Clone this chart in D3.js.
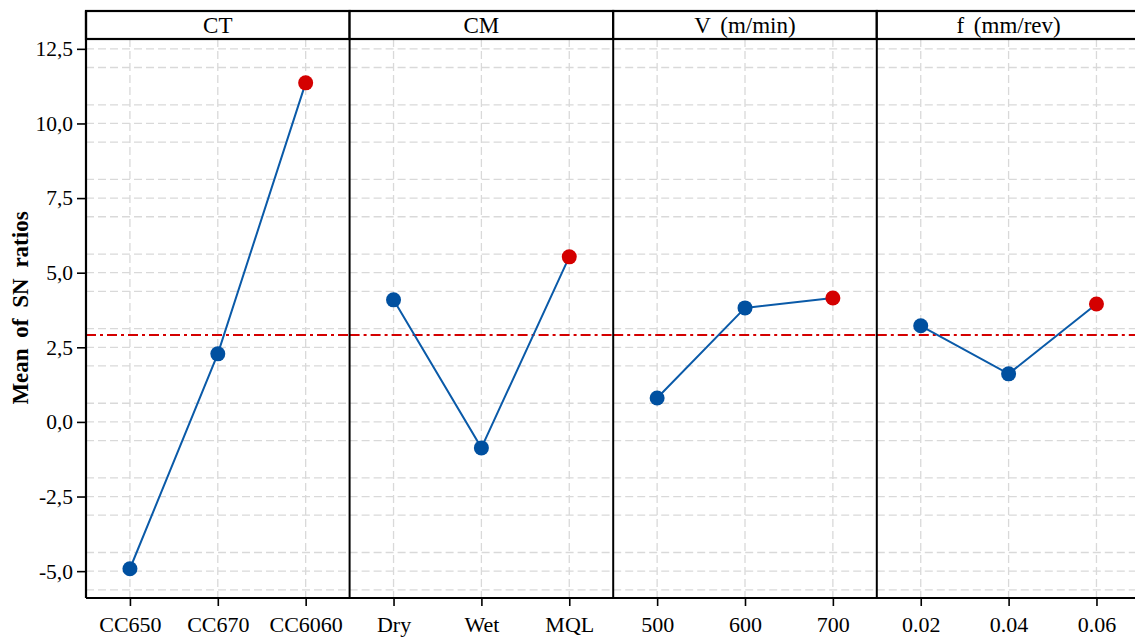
<!DOCTYPE html>
<html>
<head>
<meta charset="utf-8">
<script src="https://cdn.jsdelivr.net/npm/d3@7"></script>
<style>
  body { margin: 0; background: #fff; }
  text { font-family: "Times New Roman", "Liberation Serif", "DejaVu Serif", serif; fill: #000; }
</style>
</head>
<body>
<svg id="chart" width="1135" height="637"></svg>
<script>
// factors and their levels
const factors = ["CT", "CM", "V (m/min)", "f (mm/rev)"];
const levels = [
  ["CC650", "CC670", "CC6060"],
  ["Dry", "Wet", "MQL"],
  ["500", "600", "700"],
  ["0.02", "0.04", "0.06"]
];
// mean SN ratio per level
const snMeans = [
  [-4.92, 2.28, 11.36],
  [4.09, -0.87, 5.53],
  [0.80, 3.82, 4.15],
  [3.22, 1.61, 3.95]
];
const overallMean = 2.91;
const yTicks = [-5, -2.5, 0, 2.5, 5, 7.5, 10, 12.5];

const serif = '"Times New Roman", "Liberation Serif", serif';
const svg = d3.select("#chart");
const plotL = 86, plotT = 39, plotB = 598, stripH = 28;
const panelW = 263.6;

const y = d3.scaleLinear().domain([-5.9, 12.83]).range([plotB, plotT]);
const fmt = d => d.toFixed(1).replace(".", ",");
const minorTicks = d3.range(-5.625, 12.9, 1.25).filter(v => !yTicks.includes(v));

svg.append("defs").append("clipPath").attr("id", "plotclip")
  .append("rect").attr("x", plotL).attr("y", plotT).attr("width", 1135 - plotL).attr("height", plotB - plotT);

factors.forEach((name, i) => {
  const x0 = plotL + i * panelW;
  const x = d3.scalePoint().domain(levels[i]).range([x0, x0 + panelW]).padding(0.5);
  const g = svg.append("g").attr("clip-path", "url(#plotclip)");

  // grid
  g.selectAll(".gy").data(yTicks.concat(minorTicks)).enter().append("line")
    .attr("x1", x0).attr("x2", x0 + panelW)
    .attr("y1", d => y(d)).attr("y2", d => y(d))
    .style("stroke", "#d9d9d9").style("stroke-width", 1.3).style("stroke-dasharray", "8,4");
  g.selectAll(".gx").data(levels[i]).enter().append("line")
    .attr("x1", d => x(d)).attr("x2", d => x(d))
    .attr("y1", plotT).attr("y2", plotB)
    .style("stroke", "#d9d9d9").style("stroke-width", 1.3).style("stroke-dasharray", "8,4");

  // overall mean
  g.append("line")
    .attr("x1", x0).attr("x2", x0 + panelW)
    .attr("y1", y(overallMean)).attr("y2", y(overallMean))
    .style("stroke", "#d40000").style("stroke-width", 2).style("stroke-dasharray", "10,4,3,4");

  const pts = levels[i].map((l, j) => ({ l: l, v: snMeans[i][j] }));
  const maxV = d3.max(snMeans[i]);
  g.append("path").datum(pts)
    .attr("d", d3.line().x(d => x(d.l)).y(d => y(d.v)))
    .style("fill", "none").style("stroke", "#0a5aa8").style("stroke-width", 2);
  g.selectAll(".pt").data(pts).enter().append("circle")
    .attr("cx", d => x(d.l)).attr("cy", d => y(d.v)).attr("r", 7.5)
    .style("fill", d => d.v === maxV ? "#d40000" : "#0050a0");

  // x axis
  const ax = svg.append("g").attr("transform", `translate(0,${plotB})`)
    .call(d3.axisBottom(x).tickSize(8).tickSizeOuter(0).tickPadding(10));
  ax.attr("font-family", serif);
  ax.select(".domain").remove();
  ax.selectAll("line").style("stroke", "#000").style("stroke-width", 1.6);
  ax.selectAll("text").style("font-size", "22px").style("font-family", serif);

  // panel separator
  if (i > 0) {
    svg.append("line").attr("x1", x0).attr("x2", x0).attr("y1", plotT).attr("y2", plotB)
      .style("stroke", "#000").style("stroke-width", 2);
  }

  // strip
  svg.append("rect").attr("x", x0).attr("y", plotT - stripH).attr("width", panelW).attr("height", stripH)
    .style("fill", "#fff").style("stroke", "#000").style("stroke-width", 2.2);
  svg.append("text").attr("x", x0 + panelW / 2).attr("y", plotT - 6)
    .attr("text-anchor", "middle").style("font-size", "23px").style("word-spacing", "4px")
    .style("font-family", serif).text(name);
});

// y axis
const ay = svg.append("g").attr("transform", `translate(${plotL},0)`)
  .call(d3.axisLeft(y).tickValues(yTicks).tickFormat(fmt).tickSize(9).tickPadding(4));
ay.attr("font-family", serif);
ay.select(".domain").remove();
ay.selectAll("line").style("stroke", "#000").style("stroke-width", 1.6);
ay.selectAll("text").style("font-size", "21.5px").style("font-family", serif);

svg.append("line").attr("x1", plotL).attr("x2", plotL).attr("y1", plotT - stripH).attr("y2", plotB)
  .style("stroke", "#000").style("stroke-width", 2.2);
svg.append("line").attr("x1", plotL).attr("x2", 1135).attr("y1", plotB).attr("y2", plotB)
  .style("stroke", "#000").style("stroke-width", 2.2);

svg.append("text")
  .attr("transform", "translate(28,308) rotate(-90)")
  .attr("text-anchor", "middle")
  .style("font-size", "23px").style("font-weight", "bold").style("word-spacing", "5px")
  .style("font-family", serif)
  .text("Mean of SN ratios");
</script>
</body>
</html>
